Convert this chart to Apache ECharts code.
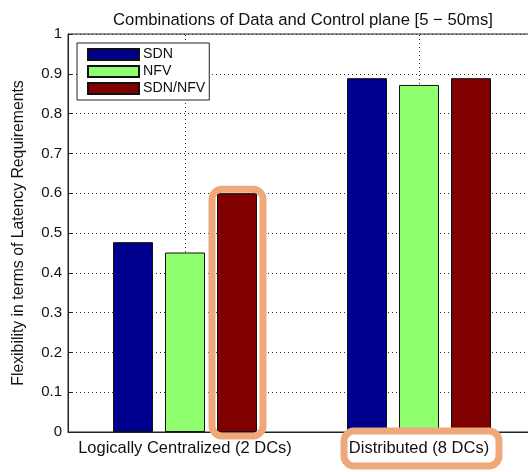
<!DOCTYPE html>
<html>
<head>
<meta charset="utf-8">
<script src="https://cdn.jsdelivr.net/npm/echarts@6/dist/echarts.min.js"></script>
<style>
html,body{margin:0;padding:0;background:#fff;overflow:hidden;width:528px;height:472px;}
#main{width:544px;height:472px;}
</style>
</head>
<body>
<div id="main"></div>
<script>
const categories = ['Logically Centralized (2 DCs)', 'Distributed (8 DCs)'];
const seriesNames = ['SDN', 'NFV', 'SDN/NFV'];
const sdnValues = [0.477, 0.889];
const nfvValues = [0.451, 0.872];
const sdnNfvValues = [0.600, 0.889];
const titleText = 'Combinations of Data and Control plane [5 \u2212 50ms]';
const yAxisTitle = 'Flexibility in terms of Latency Requirements';

const FONT = '"Liberation Sans", Arial, sans-serif';
const colors = ['#00008F', '#8FFF6F', '#800000'];
const dotted = [1, 3];

const chart = echarts.init(document.getElementById('main'), null, {renderer: 'canvas'});

const barBase = {
  type: 'bar',
  barWidth: 40,
  barGap: '30%',
  z: 3,
  emphasis: {disabled: true}
};

chart.setOption({
  animation: false,
  backgroundColor: '#fff',
  title: {
    text: titleText,
    left: 298,
    top: 7,
    textAlign: 'center',
    textStyle: {fontFamily: FONT, fontSize: 16.7, fontWeight: 'normal', color: '#111'}
  },
  grid: {
    left: 68, top: 34, width: 468, height: 398,
    show: true, borderColor: '#222', borderWidth: 1, backgroundColor: 'transparent'
  },
  legend: {
    data: seriesNames,
    orient: 'vertical',
    left: 77, top: 43,
    itemWidth: 51, itemHeight: 11, itemGap: 1,
    padding: [3.5, 4, 3.5, 10],
    borderColor: '#222', borderWidth: 1,
    backgroundColor: '#fff',
    icon: 'rect',
    selectedMode: false,
    textStyle: {fontFamily: FONT, fontSize: 14.2, lineHeight: 16, color: '#111', padding: [0, 0, 0, -1]}
  },
  xAxis: {
    type: 'category',
    data: categories,
    boundaryGap: true,
    axisLine: {lineStyle: {color: '#222', width: 1}},
    axisTick: {show: false},
    splitLine: {show: false},
    axisLabel: {interval: 0, fontFamily: FONT, fontSize: 16.5, color: '#111', margin: 8}
  },
  yAxis: {
    type: 'value',
    min: 0, max: 1, interval: 0.1,
    name: yAxisTitle,
    nameLocation: 'middle',
    nameGap: 41,
    nameTextStyle: {fontFamily: FONT, fontSize: 15.8, color: '#111'},
    axisLine: {show: true, lineStyle: {color: '#222', width: 1}},
    axisTick: {show: true, inside: true, length: 4, lineStyle: {color: '#222'}},
    splitLine: {show: true, lineStyle: {color: '#333', type: dotted, width: 1}},
    axisLabel: {fontFamily: FONT, fontSize: 15, color: '#111', margin: 6}
  },
  series: [
    Object.assign({}, barBase, {
      name: seriesNames[0], data: sdnValues,
      itemStyle: {color: colors[0], borderColor: '#111', borderWidth: 1}
    }),
    Object.assign({}, barBase, {
      name: seriesNames[1], data: nfvValues,
      itemStyle: {color: colors[1], borderColor: '#111', borderWidth: 1},
      markLine: {
        silent: true, symbol: 'none', z: 1,
        label: {show: false},
        lineStyle: {color: '#333', type: dotted, width: 1},
        emphasis: {disabled: true},
        data: categories.map(c => ({xAxis: c}))
      }
    }),
    Object.assign({}, barBase, {
      name: seriesNames[2], data: sdnNfvValues,
      itemStyle: {color: colors[2], borderColor: '#111', borderWidth: 1}
    })
  ]
});

// Orange highlight annotations, positioned from the chart's own layout
function addHighlights() {
  const orange = '#EEA87A';
  let lay = null;
  try {
    lay = chart.getModel().getSeriesByIndex(2).getData().getItemLayout(0);
  } catch (e) { lay = null; }
  let bx, by, bw, bh;
  if (lay && lay.width) {
    bx = lay.x; by = lay.y; bw = lay.width; bh = lay.height;
    if (bh < 0) { by = by + bh; bh = -bh; }
  } else {
    const cx = chart.convertToPixel({xAxisIndex: 0}, categories[0]);
    const top = chart.convertToPixel({yAxisIndex: 0}, sdnNfvValues[0]);
    const bot = chart.convertToPixel({yAxisIndex: 0}, 0);
    bx = cx + 52 - 20; bw = 40; by = top; bh = bot - top;
  }
  const base = chart.convertToPixel({yAxisIndex: 0}, 0);
  const c2 = chart.convertToPixel({xAxisIndex: 0}, categories[1]);
  chart.setOption({
    graphic: [
      {
        type: 'rect', z: 100,
        shape: {x: bx - 5, y: by - 4, width: bw + 11, height: bh + 8, r: 10},
        style: {fill: 'none', stroke: orange, lineWidth: 7}
      },
      {
        type: 'rect', z: 100,
        shape: {x: c2 - 75, y: base - 1, width: 155, height: 35, r: 10},
        style: {fill: 'none', stroke: orange, lineWidth: 7}
      }
    ]
  });
}
addHighlights();
</script>
</body>
</html>
